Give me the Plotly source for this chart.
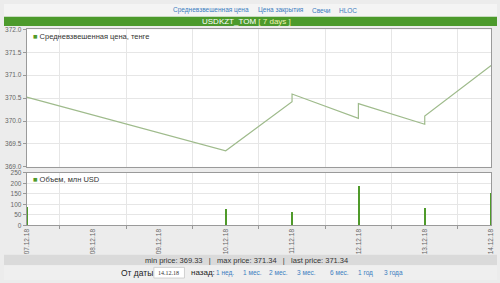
import plotly.graph_objects as go

# ---- data ----
price_dates = ["2018-12-07", "2018-12-10", "2018-12-11", "2018-12-11", "2018-12-12",
               "2018-12-12", "2018-12-13", "2018-12-13", "2018-12-14"]
price_values = [370.52, 369.35, 370.42, 370.59, 370.06, 370.38, 369.93, 370.11, 371.21]
vol_dates = ["2018-12-07", "2018-12-10", "2018-12-11", "2018-12-12", "2018-12-13", "2018-12-14"]
vol_values = [89, 78, 65, 187, 86, 156]
price_ticks = [369.0, 369.5, 370.0, 370.5, 371.0, 371.5, 372.0]
vol_ticks = [0, 50, 100, 150, 200, 250]
top_links = ["Средневзвешенная цена", "Цена закрытия", "Свечи", "HLOC"]
period_links = ["1 нед.", "1 мес.", "2 мес.", "3 мес.", "6 мес.", "1 год", "3 года"]
stats_text = "min price: 369.33   |   max price: 371.34   |   last price: 371.34"

W, H = 500, 283
def py(px):
    return 1 - px / H
def pxx(px):
    return px / W

FONT = "Liberation Sans, Arial, sans-serif"
GREEN_LINE = "#9fbb8c"
GREEN_BAR = "#4f9a2a"
LINK = "#3b7dc0"
GRID = "#e6e6e6"

fig = go.Figure()
fig.add_trace(go.Scatter(x=price_dates, y=price_values, mode="lines",
                         line=dict(color=GREEN_LINE, width=1.2),
                         xaxis="x", yaxis="y", showlegend=False))
fig.add_trace(go.Bar(x=vol_dates, y=vol_values, marker=dict(color=GREEN_BAR, line=dict(width=0)),
                     width=2.6e6, xaxis="x2", yaxis="y2", showlegend=False))

xr = ["2018-12-07", "2018-12-14"]
common_x = dict(range=xr, type="date", showgrid=False, zeroline=False,
                showline=True, linecolor="#9a9a9a", mirror=True, linewidth=1,
                dtick=86400000, tick0="2018-12-07")
fig.update_layout(
    width=W, height=H, margin=dict(l=0, r=0, t=0, b=0),
    paper_bgcolor="#ececec", plot_bgcolor="#ffffff",
    font=dict(family=FONT, size=7, color="#555555"),
    xaxis=dict(domain=[pxx(23), pxx(494)], anchor="y", showticklabels=False, ticks="",
               minor=dict(dtick=43200000, showgrid=True, gridcolor=GRID, gridwidth=1),
               **common_x),
    yaxis=dict(domain=[py(167), py(26)], range=[369.0, 372.0], tickvals=price_ticks,
               tickformat=".1f", ticks="outside", ticklen=3, tickcolor="#999999",
               showgrid=True, gridcolor=GRID, zeroline=False, showline=True,
               linecolor="#9a9a9a", mirror=True, tickfont=dict(size=6.5, color="#666666")),
    xaxis2=dict(domain=[pxx(23), pxx(494)], anchor="y2", showticklabels=True,
                tickformat="%d.%m.%y", tickangle=-90, ticks="",
                minor=dict(dtick=43200000, showgrid=True, gridcolor=GRID, gridwidth=1,
                           ticks="outside", ticklen=3, tickcolor="#999999"),
                tickfont=dict(size=6.5, color="#666666"), **common_x),
    yaxis2=dict(domain=[py(227), py(173)], range=[0, 250], tickvals=vol_ticks,
                ticks="outside", ticklen=3, tickcolor="#999999",
                showgrid=True, gridcolor=GRID, zeroline=False, showline=True,
                linecolor="#9a9a9a", mirror=True, tickfont=dict(size=6.5, color="#666666")),
    bargap=0,
)

shapes = [
    dict(type="rect", xref="paper", yref="paper", x0=0, x1=1, y0=py(13), y1=1,
         fillcolor="#f4f4f4", line=dict(width=0), layer="below"),
    dict(type="rect", xref="paper", yref="paper", x0=0, x1=1, y0=py(22.5), y1=py(13),
         fillcolor="#4c9a2c", line=dict(width=0), layer="below"),
    dict(type="rect", xref="paper", yref="paper", x0=0, x1=1, y0=py(268), y1=py(257),
         fillcolor="#dadada", line=dict(width=0), layer="below"),
    dict(type="rect", xref="paper", yref="paper", x0=0, x1=1, y0=0, y1=py(268),
         fillcolor="#efefef", line=dict(width=0), layer="below"),
    dict(type="rect", xref="paper", yref="paper", x0=pxx(152), x1=pxx(183), y0=py(281), y1=py(270),
         fillcolor="#ffffff", line=dict(width=1, color="#d0d0d0"), layer="below"),
]

annotations = []
link_x = [210, 280.5, 322.5, 348.5]
for t, x in zip(top_links, link_x):
    annotations.append(dict(text=t, x=pxx(x), y=py(6.5), xref="paper", yref="paper",
                            showarrow=False, xanchor="center", yanchor="middle",
                            font=dict(size=6.5, color=LINK, family=FONT)))
annotations.append(dict(text="USDKZT_TOM <span style='color:#f3f3b0'>[ 7 days ]</span>",
                        x=pxx(246), y=py(17.8), xref="paper", yref="paper", showarrow=False,
                        xanchor="center", yanchor="middle",
                        font=dict(size=8, color="#ffffff", family=FONT)))
annotations.append(dict(text="<span style='color:%s'>■</span> Средневзвешенная цена, тенге" % GREEN_BAR,
                        x=pxx(27), y=py(33), xref="paper", yref="paper", showarrow=False,
                        xanchor="left", yanchor="middle",
                        font=dict(size=7.5, color="#333333", family=FONT)))
annotations.append(dict(text="<span style='color:%s'>■</span> Объем, млн USD" % GREEN_BAR,
                        x=pxx(27), y=py(180), xref="paper", yref="paper", showarrow=False,
                        xanchor="left", yanchor="middle",
                        font=dict(size=7.5, color="#333333", family=FONT)))
annotations.append(dict(text=stats_text, x=pxx(245.5), y=py(262.5), xref="paper", yref="paper",
                        showarrow=False, xanchor="center", yanchor="middle",
                        font=dict(size=7.5, color="#333333", family=FONT)))
annotations.append(dict(text="От даты", x=pxx(117), y=py(275.5), xref="paper", yref="paper",
                        showarrow=False, xanchor="left", yanchor="middle",
                        font=dict(size=8.5, color="#222222", family=FONT)))
annotations.append(dict(text="14.12.18", x=pxx(154), y=py(275.5), xref="paper", yref="paper",
                        showarrow=False, xanchor="left", yanchor="middle",
                        font=dict(size=6, color="#333333", family="Liberation Serif, serif")))
annotations.append(dict(text="назад:", x=pxx(188), y=py(275.5), xref="paper", yref="paper",
                        showarrow=False, xanchor="left", yanchor="middle",
                        font=dict(size=8, color="#222222", family=FONT)))
period_x = [224, 252, 278.5, 306.5, 340, 366.5, 395.5]
for t, x in zip(period_links, period_x):
    annotations.append(dict(text=t, x=pxx(x), y=py(275.5), xref="paper", yref="paper",
                            showarrow=False, xanchor="center", yanchor="middle",
                            font=dict(size=6.5, color=LINK, family=FONT)))

fig.update_layout(shapes=shapes, annotations=annotations)
fig.write_html("out.html")
